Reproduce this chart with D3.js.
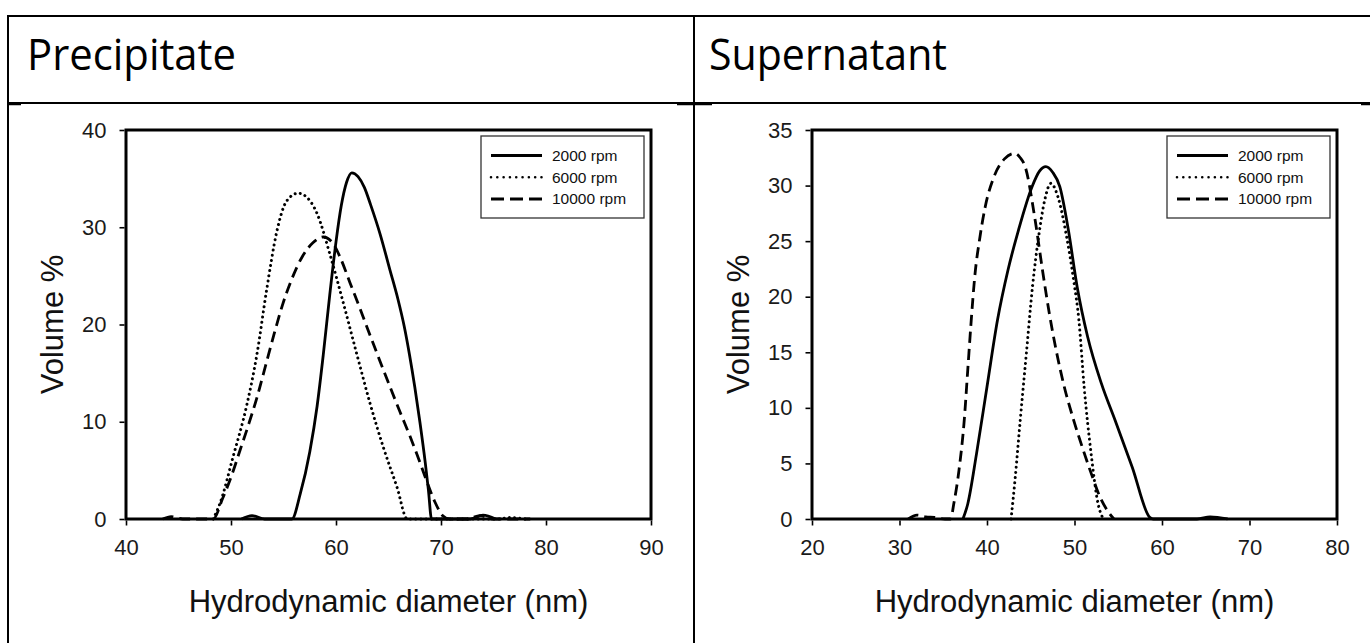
<!DOCTYPE html>
<html>
<head>
<meta charset="utf-8">
<script src="https://cdn.jsdelivr.net/npm/d3@7"></script>
<style>
  html, body { margin: 0; padding: 0; background: #fff; }
  svg { display: block; }
</style>
</head>
<body>
<svg id="fig" width="1370" height="643"></svg>
<script>
// Panel headings and legend entries
const panelTitles = ["Precipitate", "Supernatant"];
const seriesNames = ["2000 rpm", "6000 rpm", "10000 rpm"];
const xTitle = "Hydrodynamic diameter (nm)";
const yTitle = "Volume %";

// Axis ticks
const pptXTicks = [40, 50, 60, 70, 80, 90];
const pptYTicks = [0, 10, 20, 30, 40];
const supXTicks = [20, 30, 40, 50, 60, 70, 80];
const supYTicks = [0, 5, 10, 15, 20, 25, 30, 35];

// Precipitate: [diameter nm, volume %]
const ppt2000 = [[51, 0], [52, 0.35], [53.2, 0], [55.8, 0], [56.6, 2.6], [57.5, 6.9], [58.2, 11.6],
  [58.8, 17.0], [59.4, 23.0], [60.0, 28.5], [60.5, 32.2], [61.0, 34.6], [61.5, 35.6],
  [62.1, 35.2], [62.7, 34.1], [63.3, 32.3], [64.2, 29.3], [65.14, 25.6], [65.9, 22.6],
  [66.5, 19.8], [67.0, 16.9], [67.5, 13.6], [68.0, 9.9], [68.5, 5.8], [68.8, 3.0], [69.1, 0],
  [72.8, 0], [74, 0.4], [75.2, 0]];
const ppt6000 = [[48.3, 0], [48.95, 1.6], [50.2, 6.4], [51.5, 11.7], [52.45, 16.8], [53.4, 23.6],
  [54.35, 29.5], [55.3, 32.7], [56.4, 33.5], [57.3, 33], [58.2, 31.4], [59.4, 27.3],
  [60.7, 22.2], [61.97, 17], [63.24, 11.9], [64.5, 7.4], [65.8, 3.3], [66.8, 0],
  [75.5, 0], [76.5, 0.15], [78, 0]];
const ppt10000 = [[43.5, 0], [44.3, 0.25], [45.4, 0], [48.3, 0], [49.2, 2.1], [50.1, 4.6],
  [50.9, 7.2], [51.7, 9.8], [52.5, 12.6], [53.3, 15.8], [54.1, 19.0], [54.9, 22.0],
  [55.8, 24.7], [56.8, 27.0], [57.8, 28.4], [58.8, 29.0], [59.6, 28.5], [60.4, 26.9],
  [61.33, 24.3], [62.3, 21.6], [63.24, 18.9], [64.2, 16.2], [65.14, 13.6], [66.1, 11.0],
  [67.05, 8.5], [67.9, 6.1], [68.6, 4.0], [69.4, 1.8], [70.2, 0.3], [70.8, 0], [72.5, 0],
  [73.7, 0.35], [75, 0], [78.5, 0]];

// Supernatant: [diameter nm, volume %]
const sup2000 = [[37.25, 0], [37.8, 1.35], [38.8, 5.86], [40.0, 11.9], [41.2, 17.9], [42.4, 22.4],
  [43.6, 26.0], [45.15, 29.9], [46.0, 31.3], [46.73, 31.7], [47.5, 31.2], [48.32, 29.9],
  [49.3, 26.0], [50.3, 20.9], [51.5, 16.4], [53.07, 12.2], [54.65, 8.86], [56.6, 4.66],
  [58.6, 0.15], [59, 0], [64, 0], [65.5, 0.2], [67.5, 0]];
const sup6000 = [[42.75, 0], [43.2, 3.5], [43.8, 8.9], [44.5, 14.9], [45.2, 20.9], [45.9, 25.4],
  [46.6, 28.7], [47.3, 30.2], [48.1, 29.0], [49.1, 25.4], [49.9, 21.5], [50.5, 17.9],
  [51.1, 11.9], [51.9, 5.86], [52.7, 1.35], [53.3, 0]];
const sup10000 = [[31, 0], [32, 0.35], [33, 0.2], [34, 0.15], [35.2, 0], [35.85, 0], [36.2, 1.35],
  [36.8, 4.4], [37.4, 8.9], [37.8, 13.4], [38.2, 17.9], [38.6, 21.8], [39.2, 25.4],
  [39.8, 28.1], [40.8, 30.8], [42.0, 32.4], [43.17, 32.9], [43.8, 32.5], [44.36, 31.7],
  [45.5, 26.9], [46.34, 22.4], [47.1, 18.6], [47.9, 15.2], [48.8, 12.0], [49.9, 8.9],
  [51.0, 6.2], [52.0, 3.9], [52.9, 2.0], [53.9, 0.6], [54.5, 0]];

// Line appearance for each series
const lineStyles = [
  { width: 2.8, dash: null, cap: "butt" },
  { width: 3.0, dash: "0.01,5.2", cap: "round" },
  { width: 2.8, dash: "11,6", cap: "butt" }
];

const svg = d3.select("#fig");
const ink = "#000";

// Table grid holding the two panels
const grid = svg.append("g").attr("stroke", ink).attr("stroke-width", 2).attr("fill", "none");
grid.append("line").attr("x1", 8).attr("x2", 1370).attr("y1", 16).attr("y2", 16);
grid.append("line").attr("x1", 8).attr("x2", 1370).attr("y1", 103).attr("y2", 103);
grid.append("line").attr("x1", 8).attr("x2", 8).attr("y1", 15).attr("y2", 643);
grid.append("line").attr("x1", 694).attr("x2", 694).attr("y1", 15).attr("y2", 643);
// heavier joints where the panel cells meet the row rule
[[8, 21], [677, 712], [1361, 1370]].forEach(([a, b]) => {
  grid.append("line").attr("x1", a).attr("x2", b).attr("y1", 104.5).attr("y2", 104.5)
    .attr("stroke-width", 1.5);
});

const titleFont = "'Open Sans', 'Noto Sans', sans-serif";
svg.append("text").attr("x", 27).attr("y", 70).text(panelTitles[0])
  .attr("font-family", titleFont).attr("font-size", 43)
  .attr("textLength", 209).attr("lengthAdjust", "spacingAndGlyphs");
svg.append("text").attr("x", 709).attr("y", 70).text(panelTitles[1])
  .attr("font-family", titleFont).attr("font-size", 43)
  .attr("textLength", 238).attr("lengthAdjust", "spacingAndGlyphs");

const chartFont = "'Liberation Sans', Arial, sans-serif";

function drawPanel(box, xDomain, yDomain, xTicks, yTicks, series) {
  const x = d3.scaleLinear().domain(xDomain).range([box.left, box.right]);
  const y = d3.scaleLinear().domain(yDomain).range([box.bottom, box.top]);
  const g = svg.append("g");

  const line = d3.line()
    .x(d => x(d[0]))
    .y(d => y(d[1]))
    .curve(d3.curveMonotoneX);

  series.forEach((s, i) => {
    const st = lineStyles[i];
    g.append("path")
      .datum(s)
      .attr("d", line)
      .attr("fill", "none")
      .attr("stroke", ink)
      .attr("stroke-width", st.width)
      .attr("stroke-linecap", st.cap)
      .attr("stroke-linejoin", "round")
      .attr("stroke-dasharray", st.dash);
  });

  // Plot frame
  g.append("rect")
    .attr("x", box.left).attr("y", box.top)
    .attr("width", box.right - box.left).attr("height", box.bottom - box.top)
    .attr("fill", "none").attr("stroke", ink).attr("stroke-width", 3);

  const xAxis = g.append("g")
    .attr("transform", `translate(0,${box.bottom + 1.5})`)
    .call(d3.axisBottom(x).tickValues(xTicks).tickSize(5).tickPadding(14).tickFormat(d3.format("d")));
  const yAxis = g.append("g")
    .attr("transform", `translate(${box.left - 1.5},0)`)
    .call(d3.axisLeft(y).tickValues(yTicks).tickSize(5).tickPadding(13).tickFormat(d3.format("d")));
  [xAxis, yAxis].forEach(a => {
    a.select(".domain").remove();
    a.selectAll(".tick line").attr("stroke", ink).attr("stroke-width", 1.6);
    a.selectAll(".tick text")
      .attr("fill", "#1a1a1a")
      .attr("font-family", chartFont)
      .attr("font-size", 22);
  });

  // Axis titles
  g.append("text")
    .attr("x", (box.left + box.right) / 2)
    .attr("y", box.bottom + 93)
    .attr("text-anchor", "middle")
    .attr("font-family", chartFont).attr("font-size", 31)
    .attr("fill", "#111")
    .text(xTitle);
  g.append("text")
    .attr("transform", `translate(${box.left - 63},${(box.top + box.bottom) / 2}) rotate(-90)`)
    .attr("text-anchor", "middle")
    .attr("font-family", chartFont).attr("font-size", 31)
    .attr("fill", "#111")
    .text(yTitle);

  // Legend
  const lgW = 163, lgH = 82;
  const lgX = box.right - 7 - lgW, lgY = box.top + 6;
  const lg = g.append("g").attr("transform", `translate(${lgX},${lgY})`);
  lg.append("rect").attr("width", lgW).attr("height", lgH)
    .attr("fill", "#fff").attr("stroke", "#333").attr("stroke-width", 1.3);
  seriesNames.forEach((name, i) => {
    const st = lineStyles[i];
    const ry = 19.5 + i * 21.7;
    lg.append("line")
      .attr("x1", 10).attr("x2", 61).attr("y1", ry).attr("y2", ry)
      .attr("stroke", ink)
      .attr("stroke-width", i === 1 ? 2.6 : 3)
      .attr("stroke-linecap", st.cap)
      .attr("stroke-dasharray", i === 2 ? "13,6" : (i === 1 ? "0.01,6.3" : null));
    lg.append("text")
      .attr("x", 71).attr("y", ry + 5.5)
      .attr("font-family", chartFont).attr("font-size", 15.5)
      .attr("fill", "#111")
      .text(name);
  });
}

drawPanel({ left: 126, right: 651, top: 130, bottom: 519 }, [40, 90], [0, 40],
  pptXTicks, pptYTicks, [ppt2000, ppt6000, ppt10000]);
drawPanel({ left: 812, right: 1337, top: 130, bottom: 519 }, [20, 80], [0, 35],
  supXTicks, supYTicks, [sup2000, sup6000, sup10000]);
</script>
</body>
</html>
